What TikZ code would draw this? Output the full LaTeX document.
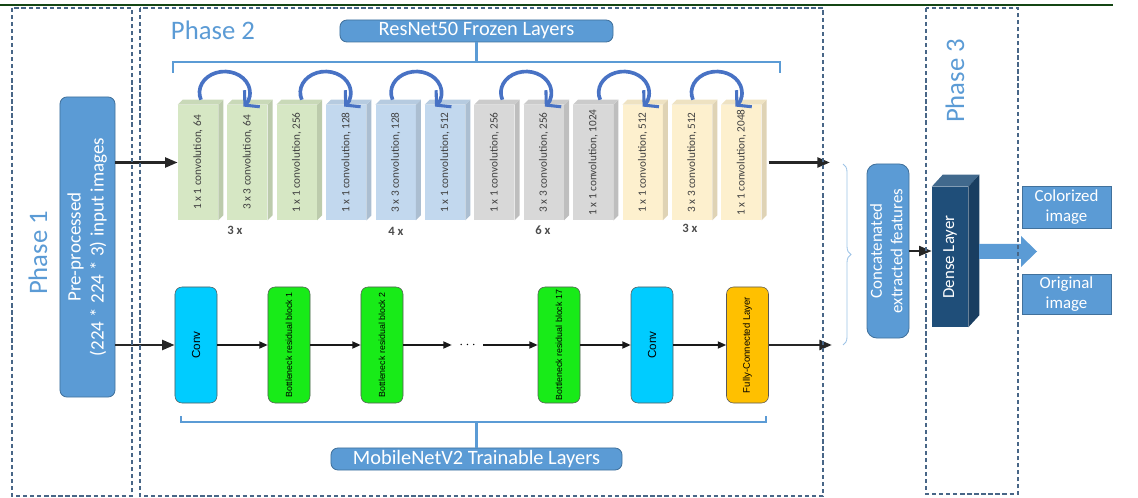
\documentclass[tikz,border=0pt]{standalone}
\usepackage{graphicx}
\usepackage{fontspec}
\setmainfont{Carlito}
\newfontfamily\arialfont{Liberation Sans}
\usetikzlibrary{arrows.meta,decorations.pathreplacing}

\definecolor{phaseblue}{RGB}{91,155,213}
\definecolor{boxedge}{RGB}{65,113,156}
\definecolor{dashgray}{RGB}{72,102,135}
\definecolor{skipblue}{RGB}{72,114,196}
\definecolor{resgreen}{RGB}{214,231,196}
\definecolor{resblue}{RGB}{194,216,238}
\definecolor{resgray}{RGB}{216,216,216}
\definecolor{resyellow}{RGB}{253,240,206}
\definecolor{mobcyan}{RGB}{0,204,255}
\definecolor{mobgreen}{RGB}{24,235,24}
\definecolor{mobgold}{RGB}{255,192,0}
\definecolor{densenavy}{RGB}{31,78,121}
\definecolor{rulegreen}{RGB}{20,70,20}

\tikzset{
  phasebox/.style={draw=dashgray, dash pattern=on 3pt off 2pt, line width=0.8pt},
  phaselabel/.style={text=phaseblue, font=\fontsize{19}{22}\selectfont},
  bluebox/.style={draw=boxedge, fill=phaseblue, text=white, rounded corners=5pt, inner sep=0pt, line width=0.6pt},
  outbox/.style={draw=boxedge, fill=phaseblue, text=white, inner sep=0pt, align=center,
    minimum width=2.225cm, font=\fontsize{12}{14.5}\selectfont},
  resblock/.style={minimum width=1cm, minimum height=2.875cm, inner sep=0pt,
    font=\fontsize{8}{9}\selectfont, text=black!75},
  mobblock/.style={draw=black!65, rounded corners=5pt, minimum width=1.05cm, minimum height=2.9cm,
    inner sep=0pt, font=\arialfont\fontsize{6.3}{7}\selectfont},
  repnote/.style={font=\bfseries\fontsize{9}{10}\selectfont, text=black!70},
  flow/.style={-{Triangle[length=9pt,width=7pt]}, line width=2pt, black!85},
  thinflow/.style={-{Triangle[length=6pt,width=5pt]}, line width=1.2pt, black!90},
  skip/.style={-{Straight Barb[length=7pt,width=16pt,line width=2.2pt]}, line width=2.6pt, skipblue},
  bracket/.style={draw=phaseblue, line width=2pt},
}

\begin{document}
\begin{tikzpicture}[x=0.025cm, y=-0.025cm]
  \useasboundingbox (0,0) rectangle (1138,498);
  \draw[rulegreen, line width=1.5pt] (0,5) -- (1113,5);

  % phase 1
  \node[phaselabel, rotate=90] (ph1) at (38,253) {Phase 1};
  \node[bluebox, minimum width=1.375cm, minimum height=7.5cm,
    font=\fontsize{13.5}{16.5}\selectfont] (pre) at (87.5,247)
    {\rotatebox{90}{\begin{tabular}{@{}c@{}}Pre-processed\\(224 * 224 * 3) input images\end{tabular}}};

  % phase 2, ResNet50 branch
  \node[phaselabel, anchor=base west] (ph2) at (166,40) {Phase 2};
  \node[bluebox, minimum width=6.825cm, minimum height=0.55cm,
    font=\fontsize{14.5}{16}\selectfont] (resnet) at (476.5,31) {ResNet50 Frozen Layers};
  \draw[bracket] (173,73) -- (173,62) -- (780,62) -- (780,73);
  \draw[bracket] (resnet.south) -- (resnet.south |- 0,62);

  \foreach \i/\col/\txt in {1/resgreen/{1 x 1 convolution, 64}, 2/resgreen/{3 x 3 convolution, 64},
      3/resgreen/{1 x 1 convolution, 256}, 4/resblue/{1 x 1 convolution, 128},
      5/resblue/{3 x 3 convolution, 128}, 6/resblue/{1 x 1 convolution, 512},
      7/resgray/{1 x 1 convolution, 256}, 8/resgray/{3 x 3 convolution, 256},
      9/resgray/{1 x 1 convolution, 1024}, 10/resyellow/{1 x 1 convolution, 512},
      11/resyellow/{3 x 3 convolution, 512}, 12/resyellow/{1 x 1 convolution, 2048}} {
    \pgfmathsetmacro\bx{198+49.4*(\i-1)}
    \node[resblock, fill=\col] (r\i) at (\bx,162.5) {\rotatebox{90}{\txt}};
    \fill[\col!88!black] (r\i.north east) -- ++(5,-5) -- ([shift={(5,-5)}]r\i.south east) -- (r\i.south east) -- cycle;
    \fill[\col!94!black] (r\i.north west) -- ++(5,-5) -- ([shift={(5,-5)}]r\i.north east) -- (r\i.north east) -- cycle;
  }
  \foreach \i/\dx in {1/3, 3/5, 5/-3, 7/8, 9/7, 11/1}
    \draw[skip] ([shift={(\dx,-5)}]r\i.north) arc[start angle=200, end angle=-42, x radius=0.63cm, y radius=0.525cm];

  \node[repnote] (rep1) at (235,230) {3 x};
  \node[repnote] (rep2) at (396,231) {4 x};
  \node[repnote] (rep3) at (543,230) {6 x};
  \node[repnote] (rep4) at (690,228) {3 x};

  % phase 2, MobileNetV2 branch
  \node[mobblock, fill=mobcyan] (m1) at (196,345) {\rotatebox{90}{\fontsize{8.3}{9}\selectfont Conv}};
  \node[mobblock, fill=mobgreen] (m2) at (289,345) {\rotatebox{90}{Bottleneck residual block 1}};
  \node[mobblock, fill=mobgreen] (m3) at (382,345) {\rotatebox{90}{Bottleneck residual block 2}};
  \node[minimum width=0.775cm, inner sep=0pt] (dots) at (467.5,345) {$\cdots$};
  \node[mobblock, fill=mobgreen] (m4) at (559,345) {\rotatebox{90}{Bottleneck residual block 17}};
  \node[mobblock, fill=mobcyan] (m5) at (652,345) {\rotatebox{90}{\fontsize{8.3}{9}\selectfont Conv}};
  \node[mobblock, fill=mobgold] (m6) at (747.5,345) {\rotatebox{90}{\fontsize{6.8}{8}\selectfont Fully-Connected Layer}};
  \draw[thinflow] (m1) -- (m2);
  \draw[thinflow] (m2) -- (m3);
  \draw[thinflow] (m3) -- (dots);
  \draw[thinflow] (dots) -- (m4);
  \draw[thinflow] (m4) -- (m5);
  \draw[thinflow] (m5) -- (m6);

  \draw[bracket] (181,416) -- (181,422) -- (766,422) -- (766,416);
  \node[bluebox, minimum width=7.275cm, minimum height=0.55cm,
    font=\fontsize{14.5}{16}\selectfont] (mobnet) at (476.5,459) {MobileNetV2 Trainable Layers};
  \draw[bracket] (mobnet.north) -- (mobnet.north |- 0,422);

  % inputs and outputs of both branches
  \coordinate (outA) at (830,162.5);
  \coordinate (outB) at (832,345);
  \draw[flow] (r1.west -| pre.east) -- (r1.west);
  \draw[flow] (m1.west -| pre.east) -- (m1.west);
  \draw[flow] ([xshift=5]r12.east) -- (outA);
  \draw[flow] (m6.east) -- (outB);

  \draw[decorate, decoration={brace, amplitude=0.2cm}, draw=phaseblue!60, line width=0.6pt]
    (843,164) -- (843,345);
  \node[bluebox, rounded corners=7pt, minimum width=1.05cm, minimum height=4.35cm,
    font=\fontsize{12}{14.5}\selectfont] (concat) at (888,251)
    {\rotatebox{90}{\begin{tabular}{@{}c@{}}Concatenated\\extracted features\end{tabular}}};

  % phase 3
  \node[phaselabel, rotate=90] (ph3) at (955,81) {Phase 3};
  \node[fill=densenavy, minimum width=0.9cm, minimum height=3.5cm, inner sep=0pt, text=white,
    font=\fontsize{12}{14}\selectfont] (dense) at (950,257) {\rotatebox{90}{Dense Layer}};
  \fill[densenavy!85!white] (dense.north west) -- ++(11,-12) -- ([shift={(11,-12)}]dense.north east) -- (dense.north east) -- cycle;
  \fill[densenavy!80!black] (dense.north east) -- ++(11,-12) -- ([shift={(11,-12)}]dense.south east) -- (dense.south east) -- cycle;
  \draw[flow, line width=1.6pt] (concat) -- (concat -| dense.west);

  \fill[phaseblue] (979,244) -- (1021,244) -- (1021,236) -- (1037,251.5) -- (1021,267) -- (1021,259) -- (979,259) -- cycle;
  \node[outbox, minimum height=1.05cm] (colorized) at (1066.5,207) {Colorized\\image};
  \node[outbox, minimum height=1.0cm] (original) at (1066.5,294) {Original\\image};

  % phase frames
  \draw[phasebox] (12,8) rectangle (132,496);
  \draw[phasebox] (140,8) rectangle (823,496);
  \draw[phasebox] (926,8) rectangle (1018,494);
\end{tikzpicture}
\end{document}
